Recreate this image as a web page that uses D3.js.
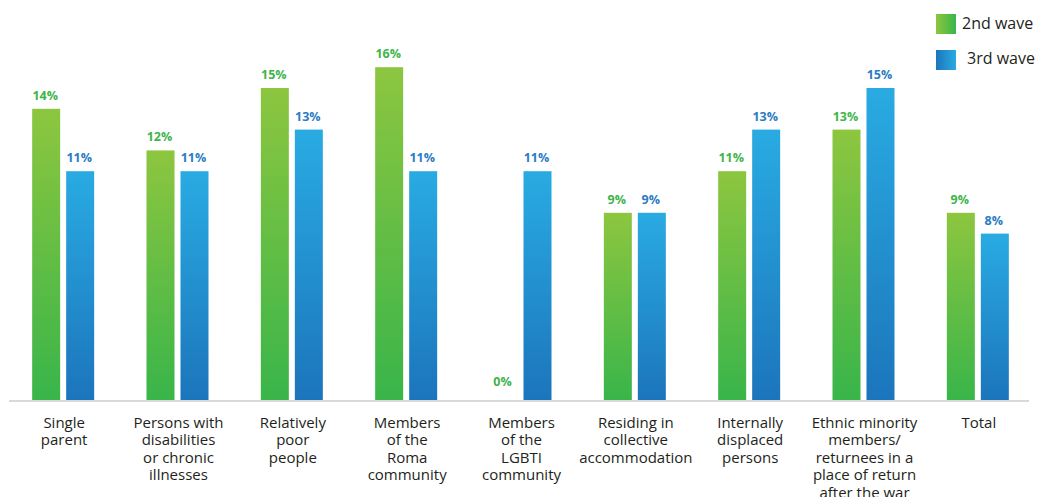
<!DOCTYPE html>
<html>
<head>
<meta charset="utf-8">
<script src="https://cdn.jsdelivr.net/npm/d3@7/dist/d3.min.js"></script>
<style>
  html, body { margin: 0; padding: 0; background: #fff; }
  svg { display: block; font-family: "Open Sans", "Noto Sans", sans-serif; }
</style>
</head>
<body>
<svg id="chart" width="1039" height="497"></svg>
<script>
// Categories (line breaks mark where each label wraps)
const categories = [
  "Single\nparent",
  "Persons with\ndisabilities\nor chronic\nillnesses",
  "Relatively\npoor\npeople",
  "Members\nof the\nRoma\ncommunity",
  "Members\nof the\nLGBTI\ncommunity",
  "Residing in\ncollective\naccommodation",
  "Internally\ndisplaced\npersons",
  "Ethnic minority\nmembers/\nreturnees in a\nplace of return\nafter the war",
  "Total"
];
const seriesNames = ["2nd wave", "3rd wave"];
const wave2 = [14, 12, 15, 16, 0, 9, 11, 13, 9];
const wave3 = [11, 11, 13, 11, 11, 9, 13, 15, 8];

const svg = d3.select("#chart");
const baseline = 400;

const x = d3.scaleBand().domain(categories).range([6, 1035]).paddingInner(0).paddingOuter(0);
const groupWidth = 62;
const xs = d3.scaleBand().domain(seriesNames).range([0, groupWidth]).paddingInner(6 / 34).paddingOuter(0);
const y = d3.scaleLinear().domain([0, 16]).range([baseline, baseline - 16 * 20.8]);

// Gradients
const defs = svg.append("defs");
function grad(id, stops, x2, y2) {
  const g = defs.append("linearGradient").attr("id", id)
    .attr("x1", 0).attr("y1", 0).attr("x2", x2).attr("y2", y2);
  stops.forEach((c, i) => g.append("stop").attr("offset", i / (stops.length - 1)).attr("stop-color", c));
}
grad("gGreen", ["#8dc63f", "#39b54a"], 0, 1);
grad("gBlue", ["#29abe2", "#1c75bc"], 0, 1);
grad("lGreen", ["#8dc63f", "#39b54a"], 1, 0);
grad("lBlue", ["#1c75bc", "#29abe2"], 1, 0);

const fills = { "2nd wave": "url(#gGreen)", "3rd wave": "url(#gBlue)" };
const labelColors = { "2nd wave": "#3db54a", "3rd wave": "#2b7cc4" };

const rows = categories.map((c, i) => ({ cat: c, values: [
  { s: seriesNames[0], v: wave2[i] },
  { s: seriesNames[1], v: wave3[i] }
]}));

// Axis baseline
svg.append("line")
  .attr("x1", 9).attr("x2", 1029)
  .attr("y1", baseline + 1).attr("y2", baseline + 1)
  .attr("stroke", "#d9d9d9").attr("stroke-width", 2);

const groups = svg.append("g").selectAll("g").data(rows).join("g")
  .attr("transform", d => `translate(${x(d.cat) + (x.bandwidth() - groupWidth) / 2},0)`);

groups.selectAll("rect").data(d => d.values).join("rect")
  .attr("x", d => xs(d.s))
  .attr("width", xs.bandwidth())
  .attr("y", d => y(d.v))
  .attr("height", d => baseline - y(d.v))
  .attr("fill", d => fills[d.s]);

groups.selectAll("text.val").data(d => d.values).join("text")
  .attr("class", "val")
  .attr("x", d => xs(d.s) + xs.bandwidth() / 2 - 1)
  .attr("y", d => y(d.v) - 9 - (d.v === 0 ? 5 : 0))
  .attr("text-anchor", "middle")
  .attr("font-size", 12.5)
  .attr("font-weight", 700)
  .attr("fill", d => labelColors[d.s])
  .text(d => d.v + "%");

// Category labels
const catLabels = svg.append("g").selectAll("text").data(categories).join("text")
  .attr("x", d => x(d) + x.bandwidth() / 2 + 1)
  .attr("y", 428)
  .attr("text-anchor", "middle")
  .attr("font-size", 15)
  .attr("fill", "#231f20");
catLabels.selectAll("tspan").data(d => d.split("\n")).join("tspan")
  .attr("x", function () { return d3.select(this.parentNode).attr("x"); })
  .attr("dy", (d, i) => i === 0 ? 0 : 17.4)
  .text(d => d);

// Legend
const legend = svg.append("g");
const legendItems = [
  { name: seriesNames[0], fill: "url(#lGreen)", sy: 14, tx: 962, ty: 29 },
  { name: seriesNames[1], fill: "url(#lBlue)", sy: 50, tx: 967, ty: 64 }
];
legend.selectAll("rect").data(legendItems).join("rect")
  .attr("x", 936).attr("y", d => d.sy).attr("width", 20).attr("height", 20)
  .attr("fill", d => d.fill);
legend.selectAll("text").data(legendItems).join("text")
  .attr("x", d => d.tx).attr("y", d => d.ty)
  .attr("font-size", 16).attr("fill", "#231f20")
  .text(d => d.name);
</script>
</body>
</html>
